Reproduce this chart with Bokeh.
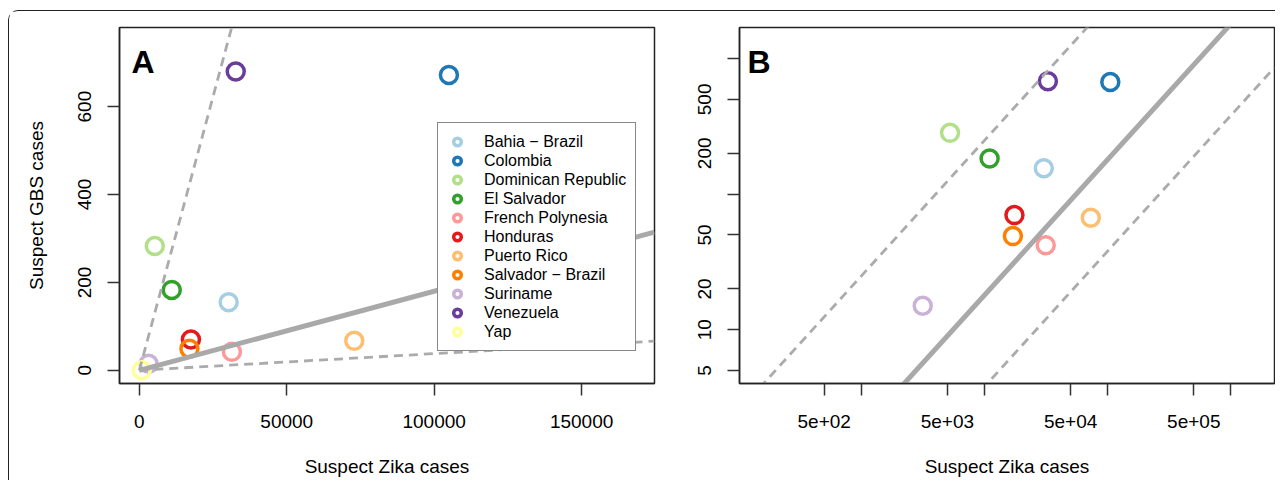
import numpy as np
from bokeh.plotting import figure
from bokeh.models import (ColumnDataSource, Range1d, FixedTicker, Legend, LegendItem, Label)
from bokeh.layouts import row
from bokeh.embed import file_html
from bokeh.resources import INLINE

# ---------------- data ----------------
countries = ["Bahia \u2212 Brazil", "Colombia", "Dominican Republic", "El Salvador",
             "French Polynesia", "Honduras", "Puerto Rico", "Salvador \u2212 Brazil",
             "Suriname", "Venezuela", "Yap"]
zika_cases = [30300, 105000, 5250, 11000, 31400, 17500, 72900, 17000, 3150, 32700, 800]
gbs_cases = [155, 672, 283, 183, 42, 70, 67, 49, 15, 680, 0]
colors = ["#A6CEE3", "#1F78B4", "#B2DF8A", "#33A02C", "#FB9A99", "#E31A1C",
          "#FDBF6F", "#FF7F00", "#CAB2D6", "#6A3D9A", "#FFFF99"]

ratio_central = 0.0018
ratio_upper = 0.0249
ratio_lower = 0.00038

xticks_a = [0, 50000, 100000, 150000]
xlabels_a = ["0", "50000", "100000", "150000"]
yticks_a = [0, 200, 400, 600]
ylabels_a = ["0", "200", "400", "600"]
xticks_b = [500, 1000, 5000, 10000, 50000, 100000, 500000, 1000000]
xlabels_b = ["5e+02", "", "5e+03", "", "5e+04", "", "5e+05", ""]
yticks_b = [5, 10, 20, 50, 100, 200, 500, 1000]
ylabels_b = ["5", "10", "20", "50", "", "200", "500", ""]

FONT = "Liberation Sans"
TICK_FS = "19px"
LINE_GRAY = "#A9A9A9"
DASH_GRAY = "#ABABAB"
DASH = "9 6"


def style_axes(p):
    for ax in (p.xaxis[0], p.yaxis[0]):
        ax.axis_line_color = "#222222"
        ax.axis_line_width = 1.5
        ax.major_tick_line_color = "#333333"
        ax.major_tick_line_width = 1.5
        ax.major_tick_out = 12
        ax.major_tick_in = 0
        ax.minor_tick_line_color = None
        ax.major_label_text_font = FONT
        ax.major_label_text_font_size = TICK_FS
        ax.major_label_text_color = "black"
        ax.axis_label_text_font = FONT
        ax.axis_label_text_font_size = TICK_FS
        ax.axis_label_text_font_style = "normal"
        ax.axis_label_text_color = "black"
    p.xaxis[0].major_label_standoff = 19
    p.xaxis[0].axis_label_standoff = 25
    p.yaxis[0].major_label_standoff = 16
    p.yaxis[0].axis_label_standoff = 29
    p.yaxis[0].major_label_orientation = "vertical"
    p.xgrid.visible = False
    p.ygrid.visible = False
    p.outline_line_color = "#222222"
    p.outline_line_width = 1.5
    p.background_fill_color = "white"
    p.border_fill_color = "white"


# ---------------- panel A ----------------
xa_lo, xa_hi = -6720, 174720
ya_lo, ya_hi = -30, 780

pA = figure(width=678, height=469, output_backend="svg", toolbar_location=None,
            x_range=Range1d(xa_lo, xa_hi), y_range=Range1d(ya_lo, ya_hi),
            min_border_left=110, min_border_right=33, min_border_top=16, min_border_bottom=97)
srcA = ColumnDataSource(dict(x=zika_cases, y=gbs_cases, c=colors, name=countries))
rA = pA.scatter("x", "y", source=srcA, size=17, fill_color=None, line_color="c", line_width=3.5)

xs_line_a = np.array([0.0, xa_hi])
pA.line(xs_line_a, ratio_upper * xs_line_a, line_color=DASH_GRAY, line_width=2.8, line_dash=DASH)
pA.line(xs_line_a, ratio_lower * xs_line_a, line_color=DASH_GRAY, line_width=2.8, line_dash=DASH)
pA.line(xs_line_a, ratio_central * xs_line_a, line_color=LINE_GRAY, line_width=5)

pA.xaxis.axis_label = "Suspect Zika cases"
pA.yaxis.axis_label = "Suspect GBS cases"
pA.xaxis.ticker = FixedTicker(ticks=xticks_a)
pA.yaxis.ticker = FixedTicker(ticks=yticks_a)
pA.xaxis.major_label_overrides = {t: l for t, l in zip(xticks_a, xlabels_a)}
pA.yaxis.major_label_overrides = {t: l for t, l in zip(yticks_a, ylabels_a)}
style_axes(pA)

legend = Legend(items=[LegendItem(label=countries[i], renderers=[rA], index=i)
                       for i in range(len(countries))],
                location=(318, 32), padding=9, spacing=0, glyph_width=20, glyph_height=19,
                label_height=19, label_standoff=17, label_text_font=FONT,
                label_text_font_size="16px", label_text_color="black",
                border_line_color="#111111",
                border_line_width=1.5, background_fill_color="white", background_fill_alpha=1.0,
                margin=0)
pA.add_layout(legend)
pA.add_layout(Label(x=12, y=321.5, x_units="screen", y_units="screen", text="A",
                    text_font=FONT, text_font_style="bold", text_font_size="32px",
                    text_color="black", text_baseline="alphabetic"))

# ---------------- panel B ----------------
xb_lo, xb_hi = 102.6, 2.26e6
yb_lo, yb_hi = 4.01, 1694

pos = [i for i in range(len(countries)) if gbs_cases[i] > 0]
srcB = ColumnDataSource(dict(x=[zika_cases[i] for i in pos], y=[gbs_cases[i] for i in pos],
                             c=[colors[i] for i in pos]))

pB = figure(width=588, height=469, output_backend="svg", toolbar_location=None,
            x_axis_type="log", y_axis_type="log",
            x_range=Range1d(xb_lo, xb_hi), y_range=Range1d(yb_lo, yb_hi),
            min_border_left=52, min_border_right=1, min_border_top=16, min_border_bottom=97)
pB.scatter("x", "y", source=srcB, size=17, fill_color=None, line_color="c", line_width=3.5)

xs_line_b = np.array([xb_lo, xb_hi])
pB.line(xs_line_b, ratio_upper * xs_line_b, line_color=DASH_GRAY, line_width=2.8, line_dash=DASH)
pB.line(xs_line_b, ratio_lower * xs_line_b, line_color=DASH_GRAY, line_width=2.8, line_dash=DASH)
pB.line(xs_line_b, ratio_central * xs_line_b, line_color=LINE_GRAY, line_width=5)

pB.xaxis.axis_label = "Suspect Zika cases"
pB.xaxis.ticker = FixedTicker(ticks=xticks_b)
pB.yaxis.ticker = FixedTicker(ticks=yticks_b)
pB.xaxis.major_label_overrides = {t: l for t, l in zip(xticks_b, xlabels_b)}
pB.yaxis.major_label_overrides = {t: l for t, l in zip(yticks_b, ylabels_b)}
style_axes(pB)
pB.add_layout(Label(x=8, y=321.5, x_units="screen", y_units="screen", text="B",
                    text_font=FONT, text_font_style="bold", text_font_size="32px",
                    text_color="black", text_baseline="alphabetic"))

layout = row(pA, pB, styles={"border-top": "1.5px solid #222222",
                             "border-left": "1.5px solid #222222",
                             "border-top-left-radius": "10px",
                             "margin-top": "10px",
                             "margin-left": "8px"})

open("out.html", "w").write(file_html(layout, INLINE))
